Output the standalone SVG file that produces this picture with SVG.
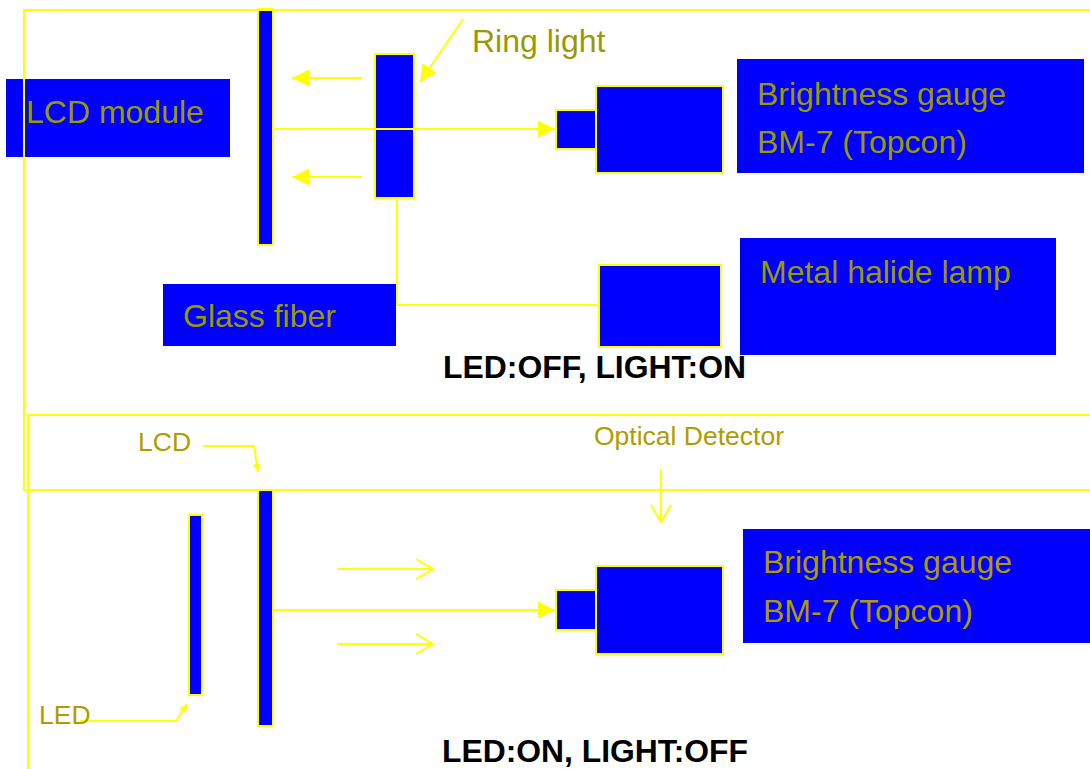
<svg xmlns="http://www.w3.org/2000/svg" width="1090" height="769" viewBox="0 0 1090 769">
<style>
.frame{fill:none;stroke:#FFFF00;stroke-width:2}
.box{fill:#0000FF;stroke:#FFFF00;stroke-width:2}
.lbl{fill:#0000FF;stroke:none}
.ln{fill:none;stroke:#FFFF00;stroke-width:2}
.t{font-family:"Liberation Sans",Arial,sans-serif;fill:#999900;font-size:32px}
.t2{font-family:"Liberation Sans",Arial,sans-serif;fill:#AE9A00;font-size:32px}
.s{font-family:"Liberation Sans",Arial,sans-serif;fill:#AE9C00;font-size:26.5px}
.cap{font-family:"Liberation Sans",Arial,sans-serif;fill:#000;font-size:31px;font-weight:bold}
</style>
<defs>
<marker id="fa" viewBox="0 0 10 10" refX="10" refY="5" markerWidth="8" markerHeight="8" markerUnits="userSpaceOnUse" orient="auto">
<path d="M0,0 L10,5 L0,10 z" fill="#FFFF00"/>
</marker>
<marker id="fb" viewBox="0 0 10 10" refX="10" refY="5" markerWidth="17" markerHeight="17" markerUnits="userSpaceOnUse" orient="auto">
<path d="M0,0 L10,5 L0,10 z" fill="#FFFF00"/>
</marker>
<marker id="oa" viewBox="0 0 20 24" refX="18" refY="12" markerWidth="20" markerHeight="24" markerUnits="userSpaceOnUse" orient="auto">
<path d="M1,2 L18,12 L1,22" fill="none" stroke="#FFFF00" stroke-width="2"/>
</marker>
</defs>
<rect width="1090" height="769" fill="#FFFFFF"/>

<g id="connectors">
<line class="ln" x1="362" y1="78" x2="292" y2="78" marker-end="url(#fb)"/>
<line class="ln" x1="362" y1="177" x2="292" y2="177" marker-end="url(#fb)"/>
<line class="ln" x1="273" y1="129" x2="555" y2="129" marker-end="url(#fb)"/>
<line class="ln" x1="463" y1="19" x2="420" y2="82" marker-end="url(#fb)"/>
<polyline class="ln" points="397,198 397,305 599,305"/>
<polyline class="ln" points="203,446 254,446 258,472" marker-end="url(#fa)"/>
<polyline class="ln" points="80,721 176,721 187,704" marker-end="url(#fa)"/>
<line class="ln" x1="273" y1="610" x2="555" y2="610" marker-end="url(#fb)"/>
<line class="ln" x1="337" y1="569" x2="433" y2="569" marker-end="url(#oa)"/>
<line class="ln" x1="337" y1="644" x2="433" y2="644" marker-end="url(#oa)"/>
<line class="ln" x1="661" y1="469" x2="661" y2="522" marker-end="url(#oa)"/>
</g>

<g id="lcd-module">
<rect class="lbl" x="6" y="79" width="224" height="78"/>
<text class="t" x="26" y="123">LCD module</text>
</g>
<g id="lcd-bar-top"><rect class="box" x="258" y="9" width="15" height="236"/></g>
<g id="ring-light">
<rect class="box" x="375" y="54" width="39" height="75"/>
<rect class="box" x="375" y="129" width="39" height="69"/>
</g>
<g id="ring-light-label"><text class="t" x="472" y="52">Ring light</text></g>
<g id="gauge-top">
<rect class="box" x="556" y="110" width="40" height="39"/>
<rect class="box" x="596" y="86" width="127" height="87"/>
</g>
<g id="gauge-top-label">
<rect class="lbl" x="737" y="59" width="347" height="114"/>
<text class="t" x="757" y="105">Brightness gauge</text>
<text class="t" x="757" y="153">BM-7 (Topcon)</text>
</g>
<g id="glass-fiber">
<rect class="lbl" x="163" y="284" width="233" height="62"/>
<text class="t" x="183" y="327">Glass fiber</text>
</g>
<g id="lamp"><rect class="box" x="599" y="265" width="122" height="82"/></g>
<g id="lamp-label">
<rect class="lbl" x="740" y="238" width="316" height="117"/>
<text class="t" x="760" y="283">Metal halide lamp</text>
</g>
<g id="caption-top"><text class="cap" x="443" y="378" textLength="303" lengthAdjust="spacingAndGlyphs">LED:OFF, LIGHT:ON</text></g>

<g id="lcd-label"><text class="s" x="138" y="451">LCD</text></g>
<g id="optical-label"><text class="s" x="594" y="445">Optical Detector</text></g>
<g id="led-bar"><rect class="box" x="189" y="515" width="13" height="180"/></g>
<g id="lcd-bar-bottom"><rect class="box" x="258" y="490" width="15" height="236"/></g>
<g id="led-label"><text class="s" x="39" y="724">LED</text></g>
<g id="gauge-bottom">
<rect class="box" x="556" y="590" width="40" height="40"/>
<rect class="box" x="596" y="566" width="127" height="88"/>
</g>
<g id="gauge-bottom-label">
<rect class="lbl" x="743" y="529" width="347" height="114"/>
<text class="t2" x="763" y="573">Brightness gauge</text>
<text class="t2" x="763" y="622">BM-7 (Topcon)</text>
</g>
<g id="caption-bottom"><text class="cap" x="442" y="762" textLength="306" lengthAdjust="spacingAndGlyphs">LED:ON, LIGHT:OFF</text></g>

<g id="frames">
<rect class="frame" x="24" y="10" width="1080" height="480"/>
<rect class="frame" x="28" y="415" width="1080" height="370"/>
</g>
</svg>
